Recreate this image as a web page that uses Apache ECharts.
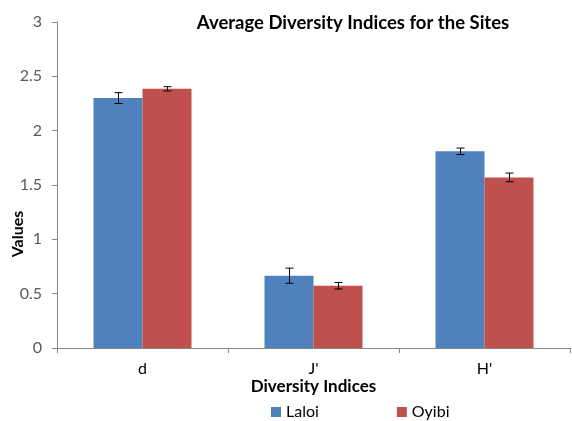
<!DOCTYPE html>
<html>
<head>
<meta charset="utf-8">
<script src="https://cdn.jsdelivr.net/npm/echarts@6/dist/echarts.min.js"></script>
<style>
  html, body { margin: 0; padding: 0; background: #fff; }
  #chart { width: 572px; height: 421px; }
</style>
</head>
<body>
<div id="chart"></div>
<script>
// data
const categories = ['d', "J'", "H'"]
const laloi = [2.30, 0.665, 1.81]
const oyibi = [2.385, 0.573, 1.57]
const laloiErr = [0.05, 0.07, 0.03]
const oyibiErr = [0.02, 0.03, 0.04]
const yTicks = [0, 0.5, 1, 1.5, 2, 2.5, 3]

const BAR_W = 49

// error bar drawn through the category axis; side -1 = left bar, +1 = right bar
function errorSeries(name, vals, errs, side) {
  return {
    type: 'custom',
    name: name + ' err',
    z: 10,
    silent: true,
    data: vals.map((v, i) => [i, v - errs[i], v + errs[i]]),
    renderItem(params, api) {
      const lo = api.coord([api.value(0), api.value(1)])
      const hi = api.coord([api.value(0), api.value(2)])
      const x = Math.round(lo[0] + side * BAR_W / 2) + 0.5
      const cap = 4
      const style = { stroke: '#000', lineWidth: 1 }
      return {
        type: 'group',
        children: [
          { type: 'line', shape: { x1: x, y1: hi[1], x2: x, y2: lo[1] }, style },
          { type: 'line', shape: { x1: x - cap, y1: hi[1], x2: x + cap, y2: hi[1] }, style },
          { type: 'line', shape: { x1: x - cap, y1: lo[1], x2: x + cap, y2: lo[1] }, style }
        ]
      }
    }
  }
}

const chart = echarts.init(document.getElementById('chart'))
chart.setOption({
  animation: false,
  textStyle: { fontFamily: 'Lato, "Open Sans", sans-serif' },
  title: {
    text: 'Average Diversity Indices for the Sites',
    left: 348, top: 9, textAlign: 'center',
    textStyle: { fontSize: 18.5, fontWeight: 'bold', color: '#000', fontFamily: 'Lato, sans-serif' }
  },
  // the Excel axis title sits below the middle of the axis, so place it by hand
  graphic: [{
    type: 'text',
    x: 18, y: 234,
    rotation: Math.PI / 2,
    style: {
      text: 'Values', fontSize: 16, fontWeight: 'bold', fill: '#000',
      fontFamily: 'Lato, sans-serif', align: 'center', verticalAlign: 'middle'
    }
  }],
  legend: {
    data: ['Laloi', 'Oyibi'],
    top: 399, left: 266,
    itemGap: 78,
    itemWidth: 10, itemHeight: 10,
    icon: 'rect',
    textStyle: { fontSize: 16, color: '#000', padding: [0, 0, 0, 0] }
  },
  grid: { left: 57, right: 2, top: 22, bottom: 73, outerBoundsMode: 'none' },
  xAxis: {
    type: 'category',
    data: categories,
    name: 'Diversity Indices',
    nameLocation: 'middle',
    nameGap: 30,
    nameMoveOverlap: false,
    nameTextStyle: { fontSize: 17, fontWeight: 'bold', color: '#000' },
    axisLine: { lineStyle: { color: '#868686' } },
    axisTick: { show: true, length: 5, lineStyle: { color: '#868686' } },
    axisLabel: { fontSize: 16, color: '#000', margin: 13 }
  },
  yAxis: {
    type: 'value',
    min: 0, max: 3, interval: 0.5,
    axisLine: { show: true, lineStyle: { color: '#868686' } },
    axisTick: { show: true, length: 5, lineStyle: { color: '#868686' } },
    splitLine: { show: false },
    axisLabel: {
      fontSize: 16, color: '#595959', margin: 15,
      formatter: v => (yTicks.includes(v) ? String(v) : '')
    }
  },
  series: [
    {
      name: 'Laloi', type: 'bar', data: laloi, barWidth: BAR_W, barGap: '0%',
      itemStyle: { color: '#4F81BD' }
    },
    {
      name: 'Oyibi', type: 'bar', data: oyibi, barWidth: BAR_W, barGap: '0%',
      itemStyle: { color: '#C0504D' }
    },
    errorSeries('Laloi', laloi, laloiErr, -1),
    errorSeries('Oyibi', oyibi, oyibiErr, 1)
  ]
})
</script>
</body>
</html>
